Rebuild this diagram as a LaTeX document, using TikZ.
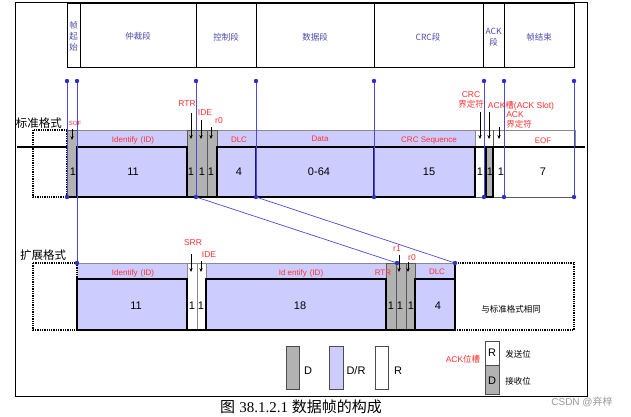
\documentclass[tikz,border=0pt]{standalone}
\usepackage{fontspec}
\setmainfont{Liberation Sans}
\newfontfamily\cjk{Noto Sans CJK SC}
\newfontfamily\capserif{Liberation Serif}
\usetikzlibrary{arrows.meta}
\definecolor{lav}{HTML}{CCCCFF}
\definecolor{bitgray}{HTML}{B2B2B2}
\definecolor{wire}{HTML}{4A4AD6}
\definecolor{wiredot}{HTML}{2F2FC8}
\definecolor{note}{HTML}{FF3030}
\definecolor{head}{HTML}{4C4CB0}
\definecolor{rule}{HTML}{8A8A8A}
\definecolor{navy}{HTML}{1A1A80}
\newcommand\zh[1]{{\cjk #1}}
\begin{document}
\begin{tikzpicture}[x=1pt,y=-1pt, every node/.style={inner sep=0pt}, sig/.style={line width=1.8pt}, rim/.style={draw=black!65,line width=0.5pt}, dotbox/.style={densely dotted,line width=1.3pt}, wireline/.style={draw=wire,line width=0.7pt}, arr/.style={-{Stealth[length=4pt,width=3.4pt]},line width=0.6pt}, tag/.style={text=note,font=\fontsize{8}{9}\selectfont,align=center}, ptr/.style={text=note,font=\fontsize{8.5}{9.5}\selectfont,align=center}, num/.style={font=\fontsize{11}{12}\selectfont}, seg/.style={text=head,font=\cjk\fontsize{8.5}{11}\selectfont,align=center}, kind/.style={font=\cjk\fontsize{11.5}{13}\selectfont}, key/.style={draw=black!70,line width=0.6pt}]
\useasboundingbox (0,0) rectangle (631,417);
\fill[white] (0,0) rectangle (631,417);
\draw[line width=0.8pt] (15,2) rectangle (587,396);
\draw[line width=1pt] (67,4) rectangle (574,68);
\foreach \x in {80,196,256,374,483,504} \draw[line width=1pt] (\x,4) -- (\x,68);
\node[seg] (hsof) at (73.5,36) {帧\\起\\始};
\node[seg] (harb) at (138,36) {仲裁段};
\node[seg] (hctl) at (226,37) {控制段};
\node[seg] (hdat) at (315,37) {数据段};
\node[seg] (hcrc) at (428,37) {CRC段};
\node[seg] (hack) at (493.5,37) {ACK\\段};
\node[seg] (heof) at (539,37) {帧结束};
\node[kind] (std) at (39,123) {标准格式};
\fill[lav] (77,130) rectangle (187,197) (217,130) rectangle (475,197);
\fill[bitgray] (67,130) rectangle (77,197) (187,130) rectangle (217,197) (486,147) rectangle (493,197);
\draw[rule] (67,130) -- (575,130) (475,130) -- (475,147) (575,130) -- (575,147);
\draw[rim] (67,130) rectangle (77,197) (187,130) rectangle (217,197) (196,130) -- (196,197) (207,130) -- (207,197);
\draw[rim] (475,197) -- (575,197) (493,130) -- (493,147);
\draw[sig] (17,147) -- (67,147) (77,147) rectangle (187,197) (217,147) rectangle (475,197) (475,147) -- (585,147) (67,197) -- (475,197) (486,147) rectangle (493,197);
\draw[sig,navy] (256,147) -- (256,197) (374,147) -- (374,197);
\draw[dotbox] (33,130) rectangle (67,197);
\node[tag] (lid) at (133,140) {Identify\hspace{3pt}(ID)};
\node[tag] (ldlc) at (239,140) {DLC};
\node[tag] (ldata) at (320,139) {Data};
\node[tag] (lcrcs) at (429,141) {CRC Sequence};
\node[tag] (leof) at (543,141) {EOF};
\foreach \n/\x/\t in {a/73/1,b/133/11,c/191/1,d/202/1,e/211/1,f/239/4,g/319/0-64,h/429/15,i/480/1,j/490/1,k/501/1,l/543/7} \node[num] (s\n) at (\x,172) {\t};
\node[tag,font=\fontsize{6}{7}\selectfont] (psof) at (75,123) {SOF};
\node[ptr] (prtr) at (187,104) {RTR};
\node[ptr] (pide) at (205,113) {IDE};
\node[ptr] (pr0) at (219,121) {r0};
\node[ptr] (pcrc) at (471,100) {CRC\\\zh{界定符}};
\node[ptr] (pslot) at (521,106) {ACK\zh{槽}(ACK Slot)};
\node[ptr,align=left] (packd) at (519,120) {ACK\\\zh{界定符}};
\foreach \n/\x/\a/\b in {sof/72/129/140,rtr/191/113/139,ide/201/120/139,rz/211/127/139,crcd/480/112/139,slot/489/112/139,ackd/499/127/139} {\coordinate (\n A) at (\x,\a); \coordinate (\n B) at (\x,\b); \draw[arr] (\n A) -- (\n B);}
\node[kind] (ext) at (43,255) {扩展格式};
\fill[lav] (77,263) rectangle (187,330) (206,263) rectangle (386,330) (415,263) rectangle (455,330);
\fill[bitgray] (386,263) rectangle (415,330);
\draw[rule] (77,263) -- (455,263) (197,263) -- (197,330) (187,263) -- (187,279) (206,263) -- (206,279);
\draw[rim] (386,263) rectangle (415,330) (396,263) -- (396,330) (406,263) -- (406,330);
\draw[sig] (77,279) rectangle (187,330) (206,279) rectangle (386,330) (415,279) rectangle (455,330) (77,330) -- (455,330) (455,263) -- (455,330);
\draw[dotbox] (33,263) rectangle (77,330) (455,263) rectangle (574,330);
\node[tag] (xid) at (133,273) {Identify\hspace{3pt}(ID)};
\node[tag] (xid2) at (301,273) {Id entify\hspace{3pt}(ID)};
\node[tag] (xrtr) at (383,273) {RTR};
\node[tag] (xdlc) at (437,272) {DLC};
\node[ptr] (psrr) at (193,243) {SRR};
\node[ptr] (pxide) at (209,255) {IDE};
\node[ptr] (pr1) at (397,249) {r1};
\node[ptr] (pxr0) at (412,258) {r0};
\foreach \n/\x/\a/\b in {srr/191/254/272,xide/201/261/272,rone/399/255/272,xrz/408/262/272} {\coordinate (\n A) at (\x,\a); \coordinate (\n B) at (\x,\b); \draw[arr] (\n A) -- (\n B);}
\foreach \n/\x/\t in {a/136/11,b/192/1,c/201/1,d/300/18,e/391/1,f/400/1,g/411/1,h/438/4} \node[num] (x\n) at (\x,306) {\t};
\node[font=\cjk\fontsize{8.5}{10}\selectfont] (same) at (511,309) {与标准格式相同};
\foreach \n/\x/\a/\b in {a/67/81/197,b/77/81/263,c/196/81/197,d/256/81/197,e/374/81/197,f/484/81/197,g/504/81/197,h/574/81/197} {\coordinate (top\n) at (\x,\a); \coordinate (bot\n) at (\x,\b); \draw[wireline] (top\n) -- (bot\n); \fill[wiredot] (top\n) circle (2.2pt) (bot\n) circle (2.2pt);}
\coordinate (xr1) at (397,263); \coordinate (xend) at (455,263);
\draw[wireline] (botc) -- (xr1) (botd) -- (xend);
\fill[wiredot] (xr1) circle (2.2pt) (xend) circle (2.2pt);
\draw[key,fill=bitgray] (286,346) rectangle (299,389);
\draw[key,fill=lav] (329,346) rectangle (343,389);
\draw[key,fill=white] (375,346) rectangle (388,389);
\node[num] (kd) at (308,371) {D};
\node[num] (kdr) at (356,371) {D/R};
\node[num] (kr) at (398,371) {R};
\node[ptr] (kack) at (463,359) {ACK\zh{位槽}};
\draw[key,fill=white] (485,341) rectangle (499,365);
\draw[key,fill=bitgray] (485,365) rectangle (499,394);
\node[num] (kbr) at (492,353) {R};
\node[num] (kbd) at (492,381) {D};
\node[font=\cjk\fontsize{8.5}{10}\selectfont] (ksend) at (518,354) {发送位};
\node[font=\cjk\fontsize{8.5}{10}\selectfont] (krecv) at (518,381) {接收位};
\node[font=\fontsize{15}{17}\selectfont] (cap) at (301,406.5) {\zh{图} \capserif 38.1.2.1 \zh{数据帧的构成}};
\node[text=black!40,font=\fontsize{10}{12}\selectfont] (mark) at (582,402) {CSDN @\zh{弃梓}};
\end{tikzpicture}
\end{document}
